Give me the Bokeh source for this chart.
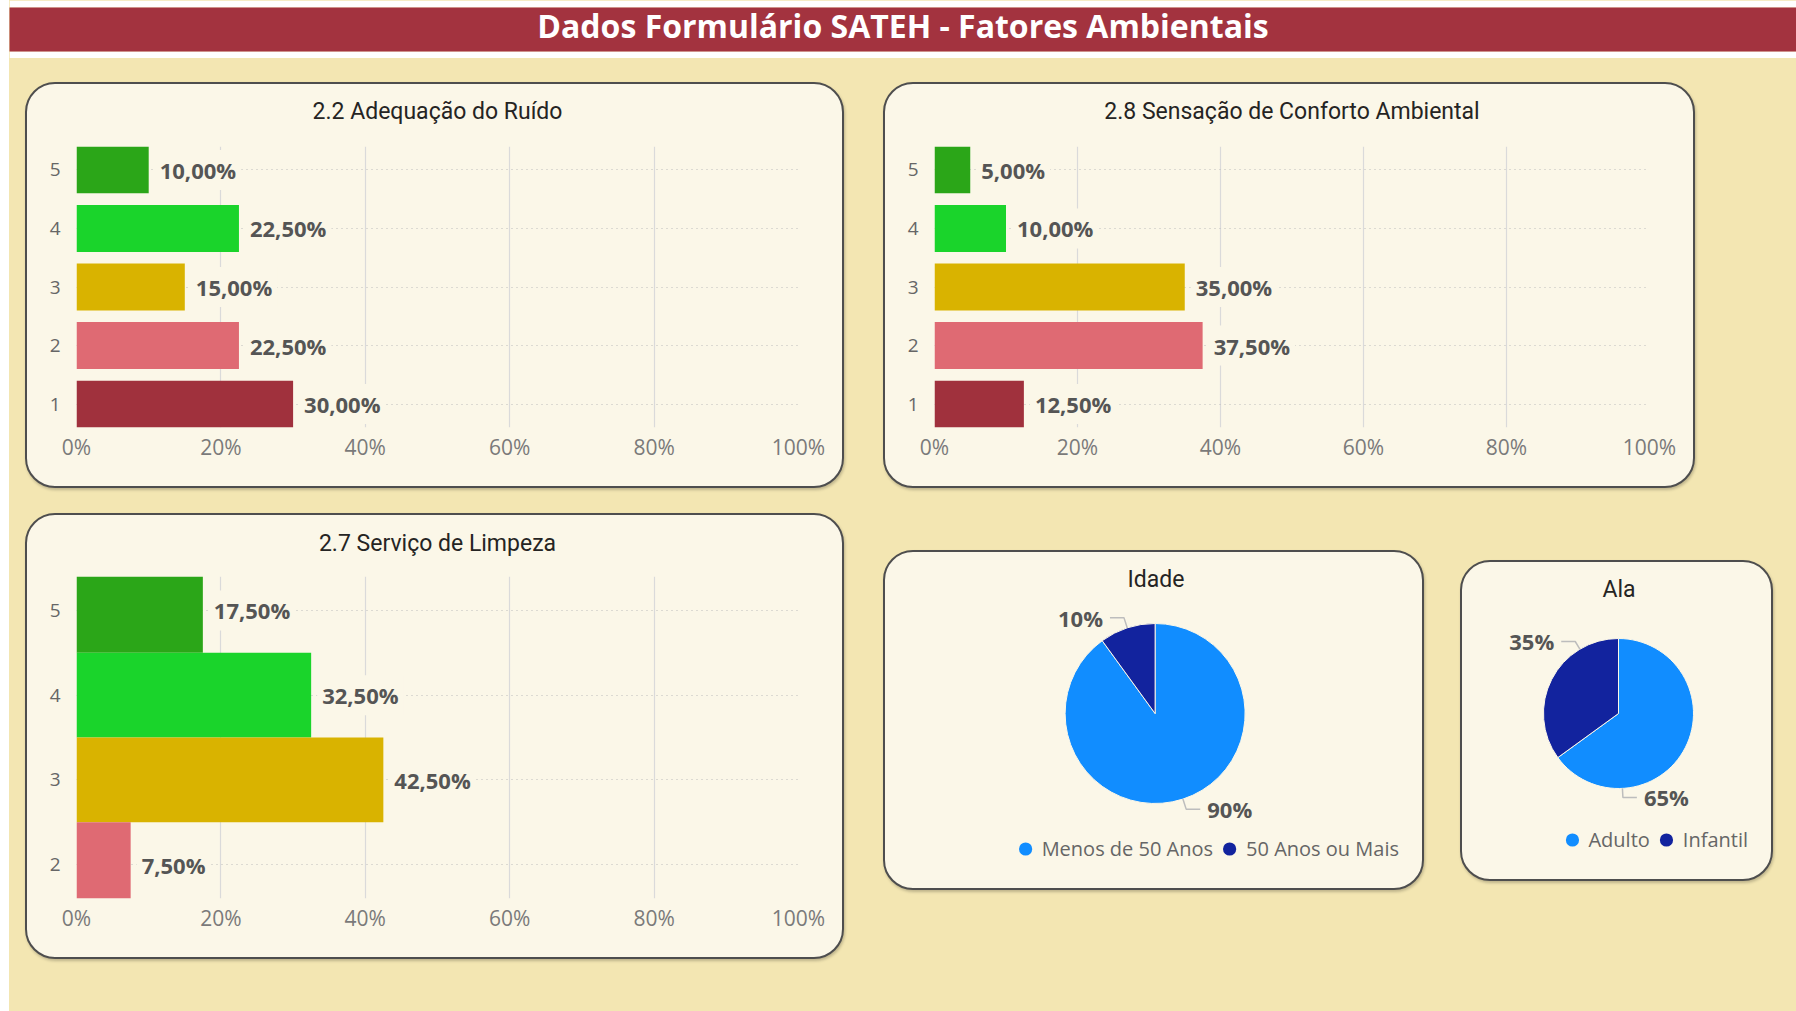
import math
from bokeh.plotting import figure
from bokeh.models import Range1d, FixedTicker, Legend, LegendItem, ColumnDataSource, Title
from bokeh.layouts import column, row
from bokeh.embed import file_html
from bokeh.resources import INLINE
from bokeh.core.properties import value

# ---------------- data ----------------
dashboard_title = "Dados Formulário SATEH - Fatores Ambientais"

ruido_title = "2.2 Adequação do Ruído"
ruido_levels = [5, 4, 3, 2, 1]
ruido_pct = [10.0, 22.5, 15.0, 22.5, 30.0]

conforto_title = "2.8 Sensação de Conforto Ambiental"
conforto_levels = [5, 4, 3, 2, 1]
conforto_pct = [5.0, 10.0, 35.0, 37.5, 12.5]

limpeza_title = "2.7 Serviço de Limpeza"
limpeza_levels = [5, 4, 3, 2]
limpeza_pct = [17.5, 32.5, 42.5, 7.5]

x_ticks = [0, 20, 40, 60, 80, 100]
x_tick_labels = ["0%", "20%", "40%", "60%", "80%", "100%"]

idade_title = "Idade"
idade_groups = ["Menos de 50 Anos", "50 Anos ou Mais"]
idade_pct = [90, 10]

ala_title = "Ala"
ala_groups = ["Adulto", "Infantil"]
ala_pct = [65, 35]

# ---------------- styles ----------------
TAN = "#F3E6B2"
CREAM = "#FBF7E8"
RED = "#A3333F"
LEVEL_COLORS = {5: "#2BA618", 4: "#1AD42B", 3: "#D9B300", 2: "#DF6A73", 1: "#A0313D"}
PIE_COLORS = ["#118DFF", "#12239E"]
BW = 2  # panel border width (border-box: canvas is inset by BW)
PANEL_STYLES = {
    "border": f"{BW}px solid #4E4E4E",
    "border-radius": "30px",
    "overflow": "hidden",
    "background-color": CREAM,
    "box-shadow": "1px 2px 3px rgba(0,0,0,0.22)",
}
TITLE_FONT = "Roboto"
BODY_FONT = "Open Sans"


def style_title(p, standoff):
    p.title.align = "center"
    p.title.text_font = TITLE_FONT
    p.title.text_font_size = "23px"
    p.title.text_font_style = "normal"
    p.title.text_color = "#252423"
    p.title.standoff = standoff


def bar_panel(title, levels, pct, width, height, borders, y_bounds, bar_height, margin, spacer):
    left, right, top, bottom = borders
    p = figure(width=width, height=height,
               output_backend="svg", toolbar_location=None,
               x_range=Range1d(0, 100), y_range=Range1d(*y_bounds),
               min_border_left=left - BW, min_border_right=right + BW,
               min_border_top=top - BW, min_border_bottom=bottom + BW,
               background_fill_color=None, border_fill_color=None,
               outline_line_color=None, margin=margin, styles=PANEL_STYLES,
               title=title)
    style_title(p, 10)
    # blank spacer between the title and the plot area
    p.add_layout(Title(text=" ", text_font_size="1px", standoff=spacer), "above")
    colors = [LEVEL_COLORS[l] for l in levels]
    labels = [f"{v:.2f}%".replace(".", ",") for v in pct]
    src = ColumnDataSource(dict(level=levels, pct=pct, color=colors, label=labels))
    p.hbar(y="level", left=0, right="pct", height=bar_height, fill_color="color",
           line_color=None, source=src)
    p.text(x="pct", y="level", text="label", source=src, x_offset=6, y_offset=0,
           text_align="left", text_baseline="middle",
           text_font=value(BODY_FONT), text_font_size="22px", text_font_style="bold",
           text_color="#555555", background_fill_color=CREAM, padding=5)

    p.xaxis.ticker = FixedTicker(ticks=x_ticks)
    p.xaxis.major_label_overrides = dict(zip(x_ticks, x_tick_labels))
    p.yaxis.ticker = FixedTicker(ticks=levels)
    for ax in (p.xaxis, p.yaxis):
        ax.axis_line_color = None
        ax.major_tick_line_color = None
        ax.minor_tick_line_color = None
        ax.major_tick_out = 0
        ax.major_tick_in = 0
        ax.minor_tick_out = 0
        ax.major_label_text_font = BODY_FONT
    p.xaxis.major_label_text_font_size = "21px"
    p.xaxis.major_label_text_color = "#7A7A7A"
    p.xaxis.major_label_standoff = 5
    p.yaxis.major_label_text_font_size = "19px"
    p.yaxis.major_label_text_color = "#666666"
    p.yaxis.major_label_standoff = 16

    p.xgrid.ticker = FixedTicker(ticks=x_ticks[1:])
    p.xgrid.grid_line_color = "#DADADA"
    p.xgrid.grid_line_width = 1.2
    p.ygrid.ticker = FixedTicker(ticks=levels)
    p.ygrid.grid_line_color = "#BDBDBD"
    p.ygrid.grid_line_dash = "1 4"
    return p


def pie_panel(title, groups, pct, width, height, center, radius, top, margin, label_angles=None):
    cx, cy = center[0] - BW, center[1] - BW
    w, h, t = width, height, top - BW
    p = figure(width=w, height=h, output_backend="svg", toolbar_location=None,
               x_range=Range1d(-cx / radius, (w - cx) / radius),
               y_range=Range1d(-(h - cy) / radius, (cy - t) / radius),
               min_border_left=0, min_border_right=0, min_border_top=t, min_border_bottom=0,
               x_axis_location=None, y_axis_location=None,
               background_fill_color=None, border_fill_color=None,
               outline_line_color=None, margin=margin, styles=PANEL_STYLES,
               title=title)
    style_title(p, top - 34)
    p.grid.visible = False

    # legend markers (hidden under the pie, size 0)
    items = []
    for g, col in zip(groups, PIE_COLORS):
        r = p.scatter(x=[0], y=[0], size=0, marker="circle", fill_color=col, line_color=None)
        items.append(LegendItem(label=g, renderers=[r]))

    starts, ends, mids = [], [], []
    acc = 0.0
    total = float(sum(pct))
    for v in pct:
        a0 = acc / total * 360.0
        acc += v
        a1 = acc / total * 360.0
        starts.append(math.radians(90 - a0))
        ends.append(math.radians(90 - a1))
        mids.append((a0 + a1) / 2)
    p.wedge(x=0, y=0, radius=1, start_angle=starts, end_angle=ends, direction="clock",
            fill_color=PIE_COLORS[:len(pct)], line_color=CREAM, line_width=1)

    angles = label_angles if label_angles is not None else mids
    xs, ys, tx, ty, tt, align, offs = [], [], [], [], [], [], []
    for v, phi in zip(pct, angles):
        s, c = math.sin(math.radians(phi)), math.cos(math.radians(phi))
        side = 1 if s >= 0 else -1
        bx, by = 1.12 * s, 1.12 * c
        ex = bx + side * 14.0 / radius
        xs.append([s, bx, ex])
        ys.append([c, by, by])
        tx.append(ex)
        ty.append(by)
        tt.append(f"{v}%")
        align.append("left" if side > 0 else "right")
        offs.append(7 * side)
    p.multi_line(xs=xs, ys=ys, line_color="#BDBDBD", line_width=1.5)
    p.text(x=tx, y=ty, text=tt, text_align=align, x_offset=offs, text_baseline="middle",
           text_font=value(BODY_FONT), text_font_size="22px", text_font_style="bold",
           text_color="#555555")

    leg = Legend(items=items, orientation="horizontal", location="bottom_right",
                 background_fill_alpha=0, border_line_color=None,
                 label_text_font=BODY_FONT, label_text_font_size="20px",
                 label_text_color="#666666", glyph_width=33, glyph_height=33,
                 label_standoff=0, spacing=0, padding=0, margin=27)
    p.add_layout(leg)
    return p


# ---------------- layout ----------------
header = figure(width=1787, height=58, x_range=Range1d(0, 1), y_range=Range1d(0, 1),
                output_backend="svg", toolbar_location=None,
                min_border_left=0, min_border_right=0, min_border_top=7, min_border_bottom=7,
                x_axis_location=None, y_axis_location=None,
                background_fill_color=RED, border_fill_color="#FFFFFF", outline_line_color=None)
header.grid.visible = False
header.text(x=[0.5], y=[0.5], text=[dashboard_title], text_align="center", text_baseline="middle",
            y_offset=-4, text_font=value(BODY_FONT), text_font_size="32px",
            text_font_style="bold", text_color="#FFFFFF")

p1 = bar_panel(ruido_title, ruido_levels, ruido_pct, 819, 406, (51, 46, 64, 61),
               (0.6, 5.4), 0.8, (24, 0, 0, 16), spacer=14)
p3 = bar_panel(limpeza_title, limpeza_levels, limpeza_pct, 819, 446, (51, 46, 63, 61),
               (1.6, 5.4), 1.0, (25, 0, 0, 16), spacer=12)
p2 = bar_panel(conforto_title, conforto_levels, conforto_pct, 812, 406, (51, 46, 64, 61),
               (0.6, 5.4), 0.8, (24, 0, 0, 39), spacer=14)
p4 = pie_panel(idade_title, idade_groups, idade_pct, 541, 340, (271.6, 163), 90, 50,
               (62, 0, 0, 39))
p5 = pie_panel(ala_title, ala_groups, ala_pct, 313, 321, (158, 153), 75, 50,
               (72, 0, 0, 36), label_angles=[177, 329])

body = row(column(p1, p3), column(p2, row(p4, p5)))
root = column(header, body, width=1787, height=1011, margin=(0, 0, 0, 9),
              styles={"background-color": TAN})

open("out.html", "w").write(file_html(root, INLINE, title="Dados Formulário SATEH"))
